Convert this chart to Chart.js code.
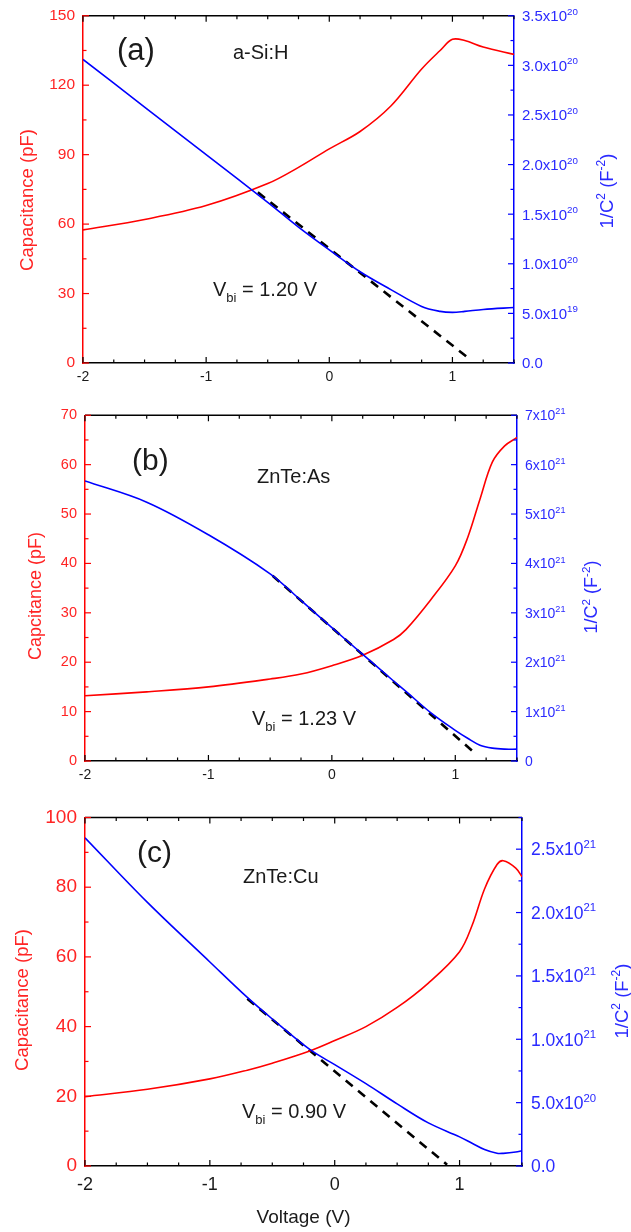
<!DOCTYPE html>
<html>
<head>
<meta charset="utf-8">
<script src="https://cdn.jsdelivr.net/npm/chart.js@4.4.0/dist/chart.umd.min.js"></script>
<style>
  body { margin: 0; background: #fff; }
  canvas { position: absolute; left: 0; }
</style>
</head>
<body>
<canvas id="chartA" width="631" height="400" style="top:0"></canvas>
<canvas id="chartB" width="631" height="400" style="top:400px"></canvas>
<canvas id="chartC" width="631" height="432" style="top:800px"></canvas>
<script>
// (a) a-Si:H
const voltageA = [-2, -1.5, -1, -0.5, -0.25, 0, 0.25, 0.5, 0.75, 0.9, 1, 1.1, 1.25, 1.5];
const capA = [57.5, 62, 68, 77.5, 84.5, 92.5, 100, 111, 127, 135, 139.8, 139.3, 136.5, 133.3];
const invC2A = [3.06e20, 2.58e20, 2.10e20, 1.62e20, 1.37e20, 1.14e20, 0.92e20, 0.74e20, 0.57e20, 0.52e20, 0.51e20, 0.52e20, 0.54e20, 0.56e20];
const fitVoltageA = [-0.58, 1.13];
const fitA = [1.72e20, 0.05e20];
const rightTicksA = ["0.0", "5.0x10^19", "1.0x10^20", "1.5x10^20", "2.0x10^20", "2.5x10^20", "3.0x10^20", "3.5x10^20"];

// (b) ZnTe:As
const voltageB = [-2, -1.5, -1, -0.5, -0.25, 0, 0.25, 0.5, 0.6, 0.8, 1, 1.1, 1.2, 1.3, 1.4, 1.5];
const capB = [13.2, 14.0, 15.0, 16.6, 17.6, 19.3, 21.4, 24.6, 26.6, 32.6, 39.5, 45.2, 53, 60.5, 63.8, 65.5];
const invC2B = [5.67e21, 5.24e21, 4.58e21, 3.79e21, 3.25e21, 2.70e21, 2.16e21, 1.62e21, 1.41e21, 0.98e21, 0.62e21, 0.46e21, 0.32e21, 0.26e21, 0.24e21, 0.24e21];
const fitVoltageB = [-0.48, 1.14];
const fitB = [3.75e21, 0.2e21];
const rightTicksB = ["0", "1x10^21", "2x10^21", "3x10^21", "4x10^21", "5x10^21", "6x10^21", "7x10^21"];

// (c) ZnTe:Cu
const voltageC = [-2, -1.5, -1, -0.7, -0.5, -0.2, 0, 0.25, 0.5, 0.75, 1, 1.1, 1.2, 1.3, 1.35, 1.45, 1.5];
const capC = [19.9, 22, 25, 27.5, 29.5, 33, 36, 40, 45.5, 52.5, 61.5, 69, 79.5, 86.5, 87.6, 85.5, 83];
const invC2C = [2.59e21, 2.08e21, 1.61e21, 1.33e21, 1.16e21, 0.92e21, 0.80e21, 0.65e21, 0.49e21, 0.34e21, 0.23e21, 0.18e21, 0.13e21, 0.10e21, 0.10e21, 0.11e21, 0.12e21];
const fitVoltageC = [-0.7, 0.9];
const fitC = [1.32e21, 0.01e21];
const rightTicksC = ["0.0", "5.0x10^20", "1.0x10^21", "1.5x10^21", "2.0x10^21", "2.5x10^21"];

const FONT = '"Liberation Sans", Arial, sans-serif';
const RED = "#ff0000";
const BLUE = "#0000ff";
const RED_TXT = "#ff2424";
const BLUE_TXT = "#2a2aff";

// text with super/subscript pieces: [text, ""|"sup"|"sub"]
function richText(ctx, parts, x, y, size, align) {
  const small = size * 0.65;
  let w = 0;
  parts.forEach(([t, k]) => { ctx.font = (k ? small : size) + "px " + FONT; w += ctx.measureText(t).width; });
  let cx = align === "center" ? x - w / 2 : x;
  ctx.textAlign = "left";
  ctx.textBaseline = "alphabetic";
  parts.forEach(([t, k]) => {
    ctx.font = (k ? small : size) + "px " + FONT;
    const dy = k === "sup" ? -size * 0.42 : k === "sub" ? size * 0.28 : 0;
    ctx.fillText(t, cx, y + dy);
    cx += ctx.measureText(t).width;
  });
}

function isMajor(v, major) {
  return Math.abs(v / major - Math.round(v / major)) < 1e-6;
}

const framePlugin = {
  id: "frame",
  afterDraw(chart, args, o) {
    const { ctx, chartArea: a, scales } = chart;
    ctx.save();
    // top border
    ctx.strokeStyle = "#000";
    ctx.lineWidth = 1.5;
    ctx.beginPath(); ctx.moveTo(a.left, a.top); ctx.lineTo(a.right, a.top); ctx.stroke();

    // inward ticks
    ctx.lineWidth = 1.2;
    scales.x.ticks.forEach(t => {
      const p = scales.x.getPixelForValue(t.value);
      const len = isMajor(t.value, 1) ? 6 : 3.5;
      ctx.strokeStyle = "#000";
      ctx.beginPath();
      ctx.moveTo(p, a.bottom); ctx.lineTo(p, a.bottom - len);
      ctx.moveTo(p, a.top); ctx.lineTo(p, a.top + len);
      ctx.stroke();
    });
    scales.y.ticks.forEach(t => {
      const p = scales.y.getPixelForValue(t.value);
      const len = isMajor(t.value, o.capMajor) ? 6 : 3.5;
      ctx.strokeStyle = RED;
      ctx.beginPath(); ctx.moveTo(a.left, p); ctx.lineTo(a.left + len, p); ctx.stroke();
    });
    scales.y1.ticks.forEach(t => {
      const p = scales.y1.getPixelForValue(t.value);
      const len = isMajor(t.value, o.invMajor) ? 6 : 3.5;
      ctx.strokeStyle = BLUE;
      ctx.beginPath(); ctx.moveTo(a.right, p); ctx.lineTo(a.right - len, p); ctx.stroke();
    });

    // right tick labels with exponents
    ctx.fillStyle = BLUE_TXT;
    o.rightLabels.forEach((lab, i) => {
      const p = scales.y1.getPixelForValue(i * o.invMajor);
      const [m, e] = lab.split("^");
      const parts = e ? [[m, ""], [e, "sup"]] : [[m, ""]];
      richText(ctx, parts, a.right + o.rightPad, p + o.rightFont * 0.36, o.rightFont, "left");
    });

    // axis titles
    ctx.save();
    ctx.fillStyle = RED_TXT;
    ctx.translate(o.leftTitleX, o.leftTitleY);
    ctx.rotate(-Math.PI / 2);
    richText(ctx, [[o.leftTitle, ""]], 0, o.titleFont * 0.36, o.titleFont, "center");
    ctx.restore();
    ctx.save();
    ctx.fillStyle = BLUE_TXT;
    ctx.translate(o.rightTitleX, o.rightTitleY);
    ctx.rotate(-Math.PI / 2);
    richText(ctx, [["1/C", ""], ["2", "sup"], [" (F", ""], ["-2", "sup"], [")", ""]], 0, o.titleFont * 0.36, o.titleFont, "center");
    ctx.restore();

    // panel labels
    ctx.fillStyle = "#1a1a1a";
    richText(ctx, [[o.tag, ""]], o.tagX, o.tagY, o.tagFont, "left");
    richText(ctx, [[o.material, ""]], o.matX, o.matY, 20, "left");
    richText(ctx, [["V", ""], ["bi", "sub"], [" = " + o.vbi, ""]], o.vbiX, o.vbiY, 20, "left");
    if (o.xTitle) {
      richText(ctx, [[o.xTitle, ""]], (a.left + a.right) / 2, o.xTitleY, 19, "center");
    }
    ctx.restore();
  }
};

function pts(xs, ys) {
  return xs.map((x, i) => ({ x: x, y: ys[i] }));
}

function makePanel(p) {
  const canvas = document.getElementById(p.id);
  const H = canvas.height;
  return new Chart(canvas, {
    type: "line",
    data: {
      datasets: [
        { data: pts(p.volts, p.inv), yAxisID: "y1", borderColor: BLUE, borderWidth: 1.6,
          pointRadius: 0, tension: 0.35, fill: false },
        { data: pts(p.volts, p.cap), yAxisID: "y", borderColor: RED, borderWidth: 1.6,
          pointRadius: 0, tension: 0.35, fill: false },
        { data: pts(p.fitV, p.fit), yAxisID: "y1", borderColor: "#000", borderWidth: 2.6,
          borderDash: [9, 7], pointRadius: 0, fill: false }
      ]
    },
    options: {
      responsive: false,
      animation: false,
      events: [],
      layout: { padding: { top: p.top, left: 0, right: 0, bottom: 0 } },
      plugins: {
        legend: { display: false },
        tooltip: { enabled: false },
        frame: p.frame
      },
      scales: {
        x: {
          type: "linear", position: "bottom", min: -2, max: 1.5,
          grid: { display: false, drawTicks: false },
          border: { display: true, color: "#000", width: 1.5 },
          ticks: {
            stepSize: 0.25, autoSkip: false, maxRotation: 0, padding: p.xPad, color: "#1a1a1a",
            font: { family: FONT, size: p.xFont },
            callback: v => (isMajor(v, 1) ? String(Math.round(v)) : "")
          },
          afterFit: s => { s.height = H - p.bottom; }
        },
        y: {
          position: "left", min: 0, max: p.capMax,
          grid: { display: false, drawTicks: false },
          border: { display: true, color: RED, width: 1.5 },
          ticks: {
            stepSize: p.capStep, autoSkip: false, padding: 8, color: RED_TXT,
            font: { family: FONT, size: p.leftFont, lineHeight: 1 },
            callback: v => (isMajor(v, p.frame.capMajor) ? String(v) : "")
          },
          afterFit: s => { s.width = p.left; }
        },
        y1: {
          position: "right", min: 0, max: p.invMax,
          grid: { display: false, drawTicks: false },
          border: { display: true, color: BLUE, width: 1.5 },
          ticks: { stepSize: p.invStep, autoSkip: false, display: false },
          afterFit: s => { s.width = 631 - p.right; }
        }
      }
    },
    plugins: [framePlugin]
  });
}

makePanel({
  id: "chartA", top: 15, bottom: 363, left: 83, right: 514,
  volts: voltageA, cap: capA, inv: invC2A, fitV: fitVoltageA, fit: fitA,
  capMax: 150, capStep: 15, invMax: 3.5e20, invStep: 0.25e20,
  xFont: 14, xPad: 6, leftFont: 15.5,
  frame: {
    capMajor: 30, invMajor: 0.5e20, rightLabels: rightTicksA, rightPad: 8, rightFont: 15,
    leftTitle: "Capacitance (pF)", leftTitleX: 26, leftTitleY: 200, rightTitleX: 606, rightTitleY: 191, titleFont: 18.5,
    tag: "(a)", tagX: 117, tagY: 60, tagFont: 31,
    material: "a-Si:H", matX: 233, matY: 59,
    vbi: "1.20 V", vbiX: 213, vbiY: 296
  }
});

makePanel({
  id: "chartB", top: 8, bottom: 361, left: 85, right: 517,
  volts: voltageB, cap: capB, inv: invC2B, fitV: fitVoltageB, fit: fitB,
  capMax: 70, capStep: 5, invMax: 7e21, invStep: 0.5e21,
  xFont: 14, xPad: 6, leftFont: 14.5,
  frame: {
    capMajor: 10, invMajor: 1e21, rightLabels: rightTicksB, rightPad: 8, rightFont: 14,
    leftTitle: "Capcitance (pF)", leftTitleX: 35, leftTitleY: 196, rightTitleX: 591, rightTitleY: 197, titleFont: 18,
    tag: "(b)", tagX: 132, tagY: 70, tagFont: 30,
    material: "ZnTe:As", matX: 257, matY: 83,
    vbi: "1.23 V", vbiX: 252, vbiY: 325
  }
});

makePanel({
  id: "chartC", top: 10, bottom: 366, left: 85, right: 522,
  volts: voltageC, cap: capC, inv: invC2C, fitV: fitVoltageC, fit: fitC,
  capMax: 100, capStep: 10, invMax: 2.75e21, invStep: 0.25e21,
  xFont: 18, xPad: 8, leftFont: 19,
  frame: {
    capMajor: 20, invMajor: 0.5e21, rightLabels: rightTicksC, rightPad: 9, rightFont: 17.5,
    leftTitle: "Capacitance (pF)", leftTitleX: 21, leftTitleY: 200, rightTitleX: 621, rightTitleY: 201, titleFont: 18.5,
    tag: "(c)", tagX: 137, tagY: 62, tagFont: 30,
    material: "ZnTe:Cu", matX: 243, matY: 83,
    vbi: "0.90 V", vbiX: 242, vbiY: 318,
    xTitle: "Voltage (V)", xTitleY: 423
  }
});
</script>
</body>
</html>
